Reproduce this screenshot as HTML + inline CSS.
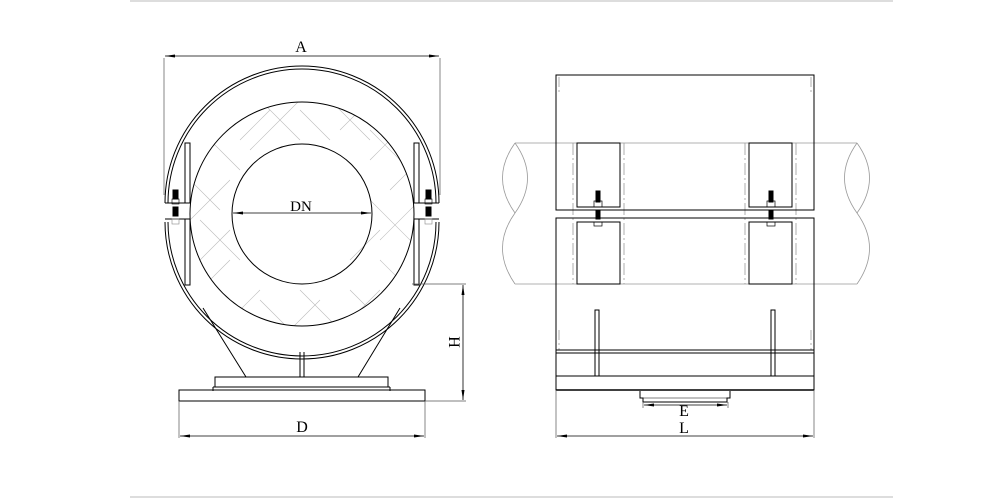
<!DOCTYPE html>
<html><head><meta charset="utf-8"><style>html,body{margin:0;padding:0;background:#fff}svg{display:block}</style></head><body>
<svg width="1000" height="500" viewBox="0 0 1000 500" xmlns="http://www.w3.org/2000/svg" font-family="Liberation Serif, serif">
<defs>
<clipPath id="ins"><path fill-rule="evenodd" d="M302,214 m-112,0 a112,112 0 1,0 224,0 a112,112 0 1,0 -224,0 Z M302,214 m-70,0 a70,70 0 1,0 140,0 a70,70 0 1,0 -140,0 Z"/></clipPath>
<marker id="ar" markerWidth="10" markerHeight="6" refX="10" refY="3" orient="auto-start-reverse" markerUnits="userSpaceOnUse"><path d="M0,1.5 L10,3 L0,4.5 Z" fill="#000"/></marker>
</defs>
<line x1="130" y1="1" x2="893" y2="1" stroke="#bbb"/>
<line x1="130" y1="497" x2="893" y2="497" stroke="#bbb"/>
<g fill="none" stroke="#000" stroke-width="1">
<g clip-path="url(#ins)" stroke="#bbb" stroke-width="0.6">
<path d="M190,120 L240,170 M260,100 L300,140 M330,100 L370,140 M200,220 L240,260 M190,280 L250,340 M350,290 L390,330 M370,200 L420,250 M370,130 L420,180 M260,300 L300,340 M300,110 L330,140 M190,180 L220,210 M380,260 L420,300 M300,290 L340,330 M220,300 L250,330"/>
<path d="M240,110 L200,150 M300,100 L250,150 M410,120 L370,160 M420,200 L380,240 M230,260 L190,300 M400,280 L350,330 M320,300 L280,340 M230,180 L190,220 M370,100 L340,130 M420,160 L390,190 M380,230 L350,260 M230,230 L200,260 M260,290 L230,320 M380,290 L350,320 M270,110 L240,140"/>
</g>
<circle cx="302" cy="214" r="112"/>
<circle cx="302" cy="214" r="70"/>
<path d="M165,203 A137,137 0 0,1 439,203 M168,203 A134,134 0 0,1 436,203"/>
<path d="M165,222 A137,137 0 0,0 439,222 M168,222 A134,134 0 0,0 436,222"/>
<path d="M165,203 H190 M165,219 H190 M414,203 H439 M414,219 H439"/>
<rect x="185" y="143" width="5" height="60"/><rect x="185" y="219" width="5" height="66"/>
<rect x="414" y="143" width="5" height="60"/><rect x="414" y="219" width="5" height="66"/>
<rect x="173" y="190" width="5" height="9" fill="#000"/><rect x="173" y="207" width="5" height="9" fill="#000"/>
<rect x="172" y="199" width="7" height="5" stroke-width="0.6"/><rect x="172" y="219" width="7" height="5" stroke-width="0.6" stroke="#888"/>
<rect x="426" y="190" width="5" height="9" fill="#000"/><rect x="426" y="207" width="5" height="9" fill="#000"/>
<rect x="425" y="199" width="7" height="5" stroke-width="0.6"/><rect x="425" y="219" width="7" height="5" stroke-width="0.6" stroke="#888"/>
<path d="M203,308 L246,377 M400,308 L358,377 M300,352 V377 M304,352 V377"/>
<rect x="215" y="377" width="173" height="10"/>
<path d="M213,387 V391 M390,387 V391 M213,387 H215 M388,387 H390"/>
<rect x="179" y="390" width="246" height="11"/>
<g stroke="#555" stroke-width="0.7">
<path d="M164,58 V195 M440,58 V195 M179,401 V438 M425,401 V438 M412,284 H466 M425,401 H466"/>
</g>
<line x1="165" y1="56" x2="439" y2="56" marker-start="url(#ar)" marker-end="url(#ar)" stroke-width="0.8"/>
<line x1="180" y1="436" x2="424" y2="436" marker-start="url(#ar)" marker-end="url(#ar)" stroke-width="0.8"/>
<line x1="463" y1="285" x2="463" y2="400" marker-start="url(#ar)" marker-end="url(#ar)" stroke-width="0.8"/>
<line x1="233" y1="213" x2="371" y2="213" marker-start="url(#ar)" marker-end="url(#ar)" stroke-width="0.8"/>
<g stroke="#999" stroke-width="0.8">
<path d="M515,143 H857 M515,284 H857"/>
<path d="M515,143 Q490,178 515,213 Q540,178 515,143 M515,213 Q490,248 515,284"/>
<path d="M857,143 Q832,178 857,213 Q882,178 857,143 M857,213 Q882,248 857,284"/>
<path d="M559,77 V94 M811,77 V94 M559,330 V350 M811,330 V350" stroke-dasharray="10 3 2 3"/>
<path d="M573,143 V284 M624,143 V284 M745,143 V284 M796,143 V284" stroke-dasharray="12 3 2 3"/>
</g>
<rect x="556" y="75" width="258" height="135" fill="none"/>
<rect x="556" y="218" width="258" height="172"/>
<path d="M556,350 H814 M556,353 H814 M556,376 H814"/>
<path d="M556,390 H814" stroke-width="1.5"/>
<rect x="577" y="143" width="43" height="64"/><rect x="577" y="222" width="43" height="62"/>
<rect x="749" y="143" width="43" height="64"/><rect x="749" y="222" width="43" height="62"/>
<rect x="596" y="191" width="4" height="11" fill="#000"/><rect x="596" y="210" width="4" height="9" fill="#000"/>
<rect x="594" y="201" width="8" height="6" stroke-width="0.7"/><rect x="594" y="222" width="8" height="4" stroke-width="0.7"/>
<rect x="769" y="191" width="4" height="11" fill="#000"/><rect x="769" y="210" width="4" height="9" fill="#000"/>
<rect x="767" y="201" width="8" height="6" stroke-width="0.7"/><rect x="767" y="222" width="8" height="4" stroke-width="0.7"/>
<rect x="595" y="310" width="4" height="66"/><rect x="771" y="310" width="4" height="66"/>
<path d="M640,391 V398 H643 V402 H727 V398 H730 V391"/>
<path d="M640,398 H730" stroke-width="0.6"/>
<g stroke="#555" stroke-width="0.7"><path d="M556,390 V438 M814,390 V438 M643,402 V408 M728,402 V408"/></g>
<line x1="644" y1="405" x2="727" y2="405" marker-start="url(#ar)" marker-end="url(#ar)" stroke-width="0.8"/>
<line x1="557" y1="436" x2="813" y2="436" marker-start="url(#ar)" marker-end="url(#ar)" stroke-width="0.8"/>
</g>
<g font-size="16" text-anchor="middle" fill="#000">
<text x="301" y="52">A</text>
<text x="301" y="211" font-size="15">DN</text>
<text x="302" y="432">D</text>
<text x="684" y="416">E</text>
<text x="684" y="433">L</text>
<text x="0" y="0" transform="translate(449,342) rotate(90)">H</text>
</g>
</svg>
</body></html>
